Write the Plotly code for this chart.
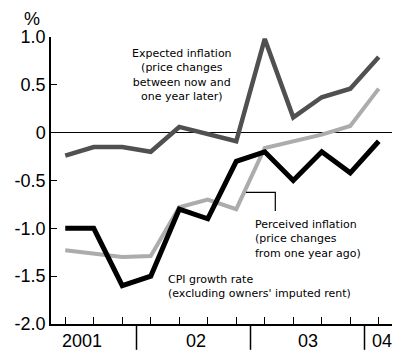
import plotly.graph_objects as go

periods = ["2001-2", "2001-3", "2001-4", "2002-1", "2002-2", "2002-3", "2002-4",
           "2003-1", "2003-2", "2003-3", "2003-4", "2004-1"]
expected = [-0.24, -0.15, -0.15, -0.20, 0.06, -0.02, -0.09, 0.98, 0.16, 0.37, 0.46, 0.79]
perceived = [-1.23, -1.27, -1.30, -1.29, -0.78, -0.70, -0.80, -0.16, -0.09, -0.02, 0.07, 0.46]
cpi = [-1.00, -1.00, -1.60, -1.50, -0.80, -0.90, -0.30, -0.20, -0.50, -0.20, -0.42, -0.09]

y_ticks = [-2.0, -1.5, -1.0, -0.5, 0, 0.5, 1.0]
y_ticktext = ["-2.0", "-1.5", "-1.0", "-0.5", "0", "0.5", "1.0"]
year_labels = ["2001", "02", "03", "04"]
year_label_pos = [0.6, 4.6, 8.5, 11.1]
year_separators = [2.5, 6.5, 10.5]

TICKFONT = dict(family="Liberation Sans Narrow, Liberation Sans, Arial", size=18, color="black")
TXTFONT = dict(family="DejaVu Sans, Liberation Sans, Arial", size=11, color="black")

fig = go.Figure()
fig.add_trace(go.Scatter(x=periods, y=perceived, mode="lines",
                         line=dict(color="#acacac", width=4), showlegend=False))
fig.add_trace(go.Scatter(x=periods, y=expected, mode="lines",
                         line=dict(color="#505050", width=4.5), showlegend=False))
fig.add_trace(go.Scatter(x=periods, y=cpi, mode="lines",
                         line=dict(color="black", width=5), showlegend=False))

shapes = []
for s in year_separators:
    shapes.append(dict(type="line", xref="x", yref="paper", x0=s, x1=s, y0=0, y1=-0.09,
                       line=dict(color="black", width=1.5)))
# bracket pointing to perceived inflation line
shapes.append(dict(type="path", xref="x", yref="y",
                   path="M 6.34,-0.625 L 7.37,-0.625 L 7.37,-0.82",
                   line=dict(color="black", width=1.2)))

annotations = []
for lab, pos in zip(year_labels, year_label_pos):
    annotations.append(dict(text=lab, x=pos, xref="x", y=0, yref="paper",
                            yanchor="middle", xanchor="center", yshift=-17,
                            showarrow=False, font=TICKFONT))
annotations.append(dict(text="%", xref="paper", yref="paper", x=0, y=1,
                        xanchor="center", yanchor="bottom", xshift=-19, yshift=6,
                        showarrow=False, font=TICKFONT))
annotations.append(dict(text="Expected inflation<br>(price changes<br>between now and<br>one year later)",
                        x=4.11, y=0.60, xref="x", yref="y", xanchor="center", yanchor="middle",
                        align="center", showarrow=False, font=TXTFONT))
annotations.append(dict(text="Perceived inflation<br>(price changes<br>from one year ago)",
                        x=6.58, y=-1.115, xref="x", yref="y", xanchor="left", yanchor="middle",
                        align="left", showarrow=False, font=TXTFONT))
annotations.append(dict(text="CPI growth rate<br>(excluding owners' imputed rent)",
                        x=3.53, y=-1.61, xref="x", yref="y", xanchor="left", yanchor="middle",
                        align="left", showarrow=False, font=TXTFONT))

# the page adds an 8px body margin, so the figure is sized to fill the rest of the window
fig.update_layout(
    width=392, height=349,
    margin=dict(l=36, r=7, t=29, b=33),
    paper_bgcolor="white", plot_bgcolor="white",
    shapes=shapes, annotations=annotations,
    xaxis=dict(type="category", range=[-0.5, 11.5], showgrid=False, zeroline=False,
               showline=True, linecolor="black", linewidth=1.5,
               ticks="inside", ticklen=7, tickcolor="black", tickwidth=1.2,
               showticklabels=False),
    yaxis=dict(range=[-2.0, 1.0], showgrid=False,
               zeroline=True, zerolinecolor="black", zerolinewidth=1.2,
               showline=True, linecolor="black", linewidth=1.5,
               ticks="inside", ticklen=6, tickcolor="black", tickwidth=1.2,
               tickvals=y_ticks, ticktext=y_ticktext, tickfont=TICKFONT),
)

fig.write_html("out.html")
